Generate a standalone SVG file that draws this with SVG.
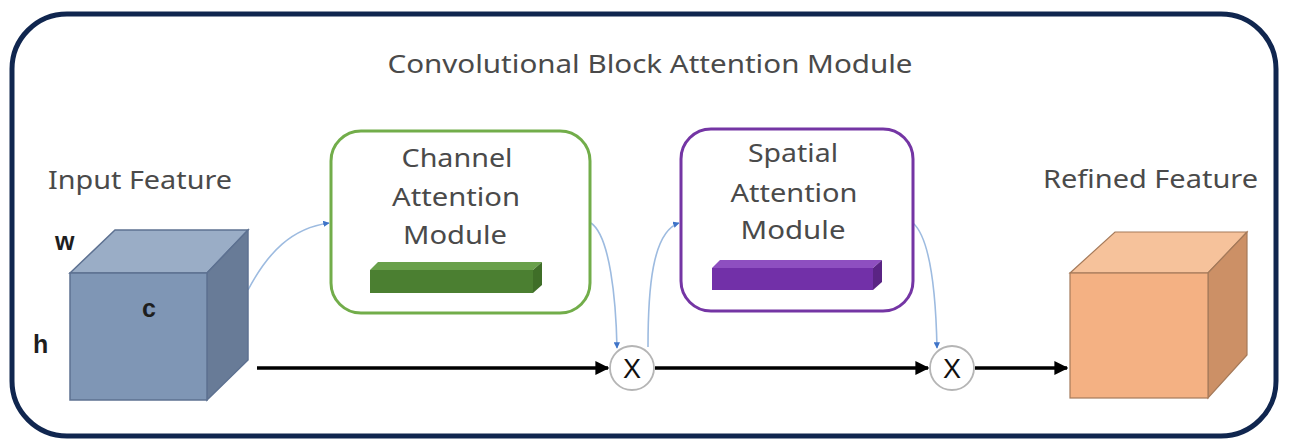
<svg xmlns="http://www.w3.org/2000/svg" width="1290" height="446" viewBox="0 0 1290 446">
  <defs>
    <marker id="arrowBlack" viewBox="0 0 10 10" refX="9" refY="5" markerWidth="4" markerHeight="4" orient="auto" markerUnits="strokeWidth">
      <path d="M0,0 L10,5 L0,10 Z" fill="#000"/>
    </marker>
    <marker id="arrowBlue" viewBox="0 0 10 10" refX="9" refY="5" markerWidth="4" markerHeight="4" orient="auto" markerUnits="strokeWidth">
      <path d="M0,0 L10,5 L0,10 Z" fill="#3f74c8"/>
    </marker>
  </defs>
  <style>
    .label { font-family: "Noto Sans", "Liberation Sans", sans-serif; font-size: 25px; fill: #4a4a4a; }
    .mod { font-family: "Noto Sans", "Liberation Sans", sans-serif; font-size: 26px; fill: #4a4a4a; text-anchor: middle; }
    .dim { font-family: "Liberation Sans", Arial, sans-serif; font-size: 25px; font-weight: bold; fill: #1e1e1e; }
    .main { fill: none; stroke: #000; stroke-width: 3.5; marker-end: url(#arrowBlack); }
    .side { fill: none; stroke: #9dbbe0; stroke-width: 1.6; marker-end: url(#arrowBlue); }
    .mult { fill: #fff; stroke: #b5b5b5; stroke-width: 1.8; }
    .x { font-family: "Liberation Sans", Arial, sans-serif; font-size: 27px; fill: #111; text-anchor: middle; }
  </style>

  <rect width="1290" height="446" fill="#fff"/>

  <!-- outer frame -->
  <g id="frame">
    <rect x="12" y="14" width="1264" height="422" rx="55" ry="55" fill="none" stroke="#10264f" stroke-width="5"/>
    <text class="label" x="650" y="73" text-anchor="middle" textLength="525" lengthAdjust="spacingAndGlyphs">Convolutional Block Attention Module</text>
  </g>

  <!-- connectors -->
  <g id="connectors">
    <path class="main" d="M257,368 L608,368"/>
    <path class="main" d="M655,368 L928,368"/>
    <path class="main" d="M975,368 L1067,368"/>
    <path class="side" d="M248,290 C268,252 292,228 329,223"/>
    <path class="side" d="M591,223 C610,236 616,300 617,348"/>
    <path class="side" d="M648,347 C648,290 652,232 679,223"/>
    <path class="side" d="M913,223 C932,240 936,300 937,348"/>
  </g>

  <!-- input feature cube -->
  <g id="input-feature">
    <text class="label" x="48" y="189" textLength="184" lengthAdjust="spacingAndGlyphs">Input Feature</text>
    <polygon points="70,273 115,230 248,230 207,273" fill="#9aadc6" stroke="#5d7191" stroke-width="1.5"/>
    <polygon points="207,273 248,230 248,360 207,400" fill="#687b97" stroke="#5d7191" stroke-width="1.5"/>
    <rect x="70" y="273" width="137" height="127" fill="#7f96b5" stroke="#5d7191" stroke-width="1.5"/>
    <text class="dim" x="55" y="250">w</text>
    <text class="dim" x="142" y="317">c</text>
    <text class="dim" x="33" y="353">h</text>
  </g>

  <!-- channel attention module -->
  <g id="channel-attention">
    <rect x="331" y="131" width="259" height="182" rx="30" ry="30" fill="#fff" stroke="#72ad4a" stroke-width="3"/>
    <text class="mod" x="457" y="167" textLength="111" lengthAdjust="spacingAndGlyphs">Channel</text>
    <text class="mod" x="456" y="206" textLength="128" lengthAdjust="spacingAndGlyphs">Attention</text>
    <text class="mod" x="455" y="244" textLength="104" lengthAdjust="spacingAndGlyphs">Module</text>
    <polygon points="370,270 378,262 542,262 533,270" fill="#69a04a"/>
    <polygon points="533,270 542,262 542,285 533,293" fill="#3f6e28"/>
    <rect x="370" y="270" width="163" height="23" fill="#4b7f31"/>
  </g>

  <!-- first multiplication -->
  <g id="mult-1">
    <circle class="mult" cx="632" cy="368" r="22"/>
    <text class="x" x="632" y="378">X</text>
  </g>

  <!-- spatial attention module -->
  <g id="spatial-attention">
    <rect x="681" y="129" width="232" height="182" rx="30" ry="30" fill="#fff" stroke="#7435a4" stroke-width="3"/>
    <text class="mod" x="793" y="162" textLength="90" lengthAdjust="spacingAndGlyphs">Spatial</text>
    <text class="mod" x="794" y="202" textLength="127" lengthAdjust="spacingAndGlyphs">Attention</text>
    <text class="mod" x="793" y="239" textLength="105" lengthAdjust="spacingAndGlyphs">Module</text>
    <polygon points="712,268 720,260 882,260 873,268" fill="#8e4fc0"/>
    <polygon points="873,268 882,260 882,282 873,290" fill="#5a2484"/>
    <rect x="712" y="268" width="161" height="22" fill="#7230a8"/>
  </g>

  <!-- second multiplication -->
  <g id="mult-2">
    <circle class="mult" cx="952" cy="368" r="22"/>
    <text class="x" x="952" y="378">X</text>
  </g>

  <!-- refined feature cube -->
  <g id="refined-feature">
    <text class="label" x="1043" y="188" textLength="215" lengthAdjust="spacingAndGlyphs">Refined Feature</text>
    <polygon points="1070,273 1115,232 1247,232 1208,273" fill="#f6c29b" stroke="#a57a5a" stroke-width="1.2"/>
    <polygon points="1208,273 1247,232 1247,355 1208,398" fill="#cc9066" stroke="#a57a5a" stroke-width="1.2"/>
    <rect x="1070" y="273" width="138" height="125" fill="#f4b183" stroke="#a57a5a" stroke-width="1.2"/>
  </g>
</svg>
